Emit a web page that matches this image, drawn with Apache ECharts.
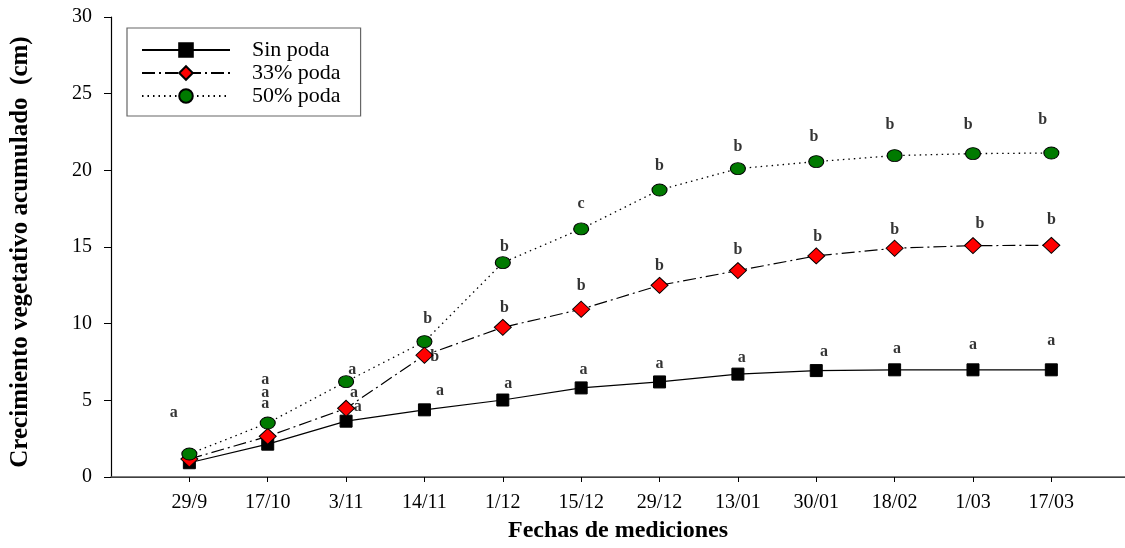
<!DOCTYPE html>
<html>
<head>
<meta charset="utf-8">
<script src="https://cdn.jsdelivr.net/npm/echarts@6/dist/echarts.min.js"></script>
<style>html,body{margin:0;padding:0;background:#fff;}#c{width:1125px;height:548px;}</style>
</head>
<body>
<div id="c"></div>
<script>
// ---- data ----
const categories = ['29/9','17/10','3/11','14/11','1/12','15/12','29/12','13/01','30/01','18/02','1/03','17/03'];
const sinPoda = [0.93, 2.14, 3.64, 4.38, 5.02, 5.81, 6.20, 6.71, 6.94, 6.99, 6.99, 6.99];
const poda33  = [1.17, 2.65, 4.48, 7.94, 9.76, 10.94, 12.50, 13.46, 14.42, 14.92, 15.09, 15.11];
const poda50  = [1.50, 3.52, 6.22, 8.83, 13.98, 16.18, 18.72, 20.11, 20.57, 20.96, 21.09, 21.13];
const yTicks = [0, 5, 10, 15, 20, 25, 30];

// significance letters and their heights (cm) / horizontal nudge (category units)
const lettersSin = ['', 'a','a','a','a','a','a','a','a','a','a','a'];
const letters33  = ['', 'a','a','b','b','b','b','b','b','b','b','b'];
const letters50  = ['a','a','a','b','b','c','b','b','b','b','b','b'];
const letterYSin = [null, 4.76, 4.57, 5.60, 6.07, 6.98, 7.37, 7.76, 8.17, 8.37, 8.61, 8.89];
const letterY33  = [null, 5.48, 5.48, 7.83, 11.00, 12.46, 13.76, 14.80, 15.63, 16.10, 16.48, 16.80];
const letterY50  = [4.17, 6.33, 6.98, 10.30, 15.00, 17.80, 20.30, 21.50, 22.20, 22.96, 22.96, 23.30];
const letterDxSin = [0, -0.03, 0.15, 0.20, 0.07, 0.03, 0, 0.05, 0.10, 0.03, 0, 0];
const letterDx33  = [0, -0.03, 0.10, 0.13, 0.02, 0, 0, 0, 0.02, 0, 0.09, 0];
const letterDx50  = [-0.20, -0.03, 0.08, 0.04, 0.02, 0, 0, 0, -0.03, -0.06, -0.06, -0.11];

const serif = '"Liberation Serif","Times New Roman",serif';
const pts = arr => arr.map((v, i) => [i + 1, v]);
const letterPts = (ys, ls, dx) => ys.map((y, i) => (y == null || !ls[i]) ? null : [i + 1 + dx[i], y, ls[i]]).filter(Boolean);

function letterSeries(ys, ls, dx) {
  return {
    type: 'scatter', data: letterPts(ys, ls, dx), symbolSize: 1, silent: true,
    itemStyle: { color: 'rgba(0,0,0,0)' }, z: 10,
    label: { show: true, position: 'inside', formatter: p => p.data[2],
      fontFamily: serif, fontWeight: 'bold', fontSize: 16, color: '#000' }
  };
}

const chart = echarts.init(document.getElementById('c'), null, { renderer: 'canvas' });
chart.setOption({
  animation: false,
  backgroundColor: '#fff',
  grid: { left: 110, right: 0, top: 17, bottom: 71, containLabel: false },
  legend: {
    data: ['Sin poda', '33% poda', '50% poda'],
    orient: 'vertical', left: 127, top: 28,
    padding: [11, 20, 9, 14],
    itemWidth: 88, itemHeight: 17, itemGap: 1,
    borderColor: '#666', borderWidth: 1.2, borderRadius: 0,
    textStyle: { fontFamily: serif, fontSize: 22, color: '#000', padding: [0, 0, 0, 17] }
  },
  xAxis: [{
    type: 'value', min: 0, max: 12.94, interval: 1,
    splitLine: { show: false },
    axisLine: { show: true, onZero: false, lineStyle: { color: '#000', width: 1.2 } },
    axisTick: { show: true, length: 5, lineStyle: { color: '#000' } },
    axisLabel: { margin: 16, fontFamily: serif, fontSize: 20, color: '#000',
      showMaxLabel: false, showMinLabel: false,
      formatter: v => (Number.isInteger(v) && v >= 1 && v <= categories.length) ? categories[v - 1] : '' },
    name: 'Fechas de mediciones', nameLocation: 'middle', nameGap: 42,
    nameTextStyle: { fontFamily: serif, fontSize: 24, fontWeight: 'bold', color: '#000' }
  }, {
    type: 'value', position: 'top', min: 0, max: 12.94,
    splitLine: { show: false }, axisTick: { show: false }, axisLabel: { show: false },
    axisLine: { show: true, lineStyle: { color: '#555', width: 1.5 } }
  }],
  yAxis: {
    type: 'value', min: yTicks[0], max: yTicks[yTicks.length - 1], interval: 5,
    splitLine: { show: false },
    axisLine: { show: true, lineStyle: { color: '#000', width: 1.2 } },
    axisTick: { show: true, length: 7, lineStyle: { color: '#000' } },
    axisLabel: { margin: 19, fontFamily: serif, fontSize: 20, color: '#000' },
    name: 'Crecimiento vegetativo acumulado  (cm)', nameLocation: 'middle', nameGap: 78,
    nameTextStyle: { fontFamily: serif, fontSize: 25, fontWeight: 'bold', color: '#000', padding: [0, 10, 0, 0] }
  },
  series: [
    { name: 'Sin poda', type: 'line', data: pts(sinPoda), symbol: 'rect', symbolSize: 12,
      lineStyle: { color: '#000', width: 1.2, type: 'solid' },
      itemStyle: { color: '#000', borderColor: '#000', borderWidth: 1 } },
    { name: '33% poda', type: 'line', data: pts(poda33), symbol: 'diamond', symbolSize: [17, 16],
      lineStyle: { color: '#000', width: 1.2, type: [13, 4, 2, 4] },
      itemStyle: { color: '#ff0000', borderColor: '#000', borderWidth: 1 } },
    { name: '50% poda', type: 'line', data: pts(poda50), symbol: 'circle', symbolSize: [15, 12],
      lineStyle: { color: '#000', width: 1.3, type: [1.5, 4] },
      itemStyle: { color: '#007a00', borderColor: '#000', borderWidth: 1 } },
    letterSeries(letterYSin, lettersSin, letterDxSin),
    letterSeries(letterY33, letters33, letterDx33),
    letterSeries(letterY50, letters50, letterDx50)
  ]
});
</script>
</body>
</html>
